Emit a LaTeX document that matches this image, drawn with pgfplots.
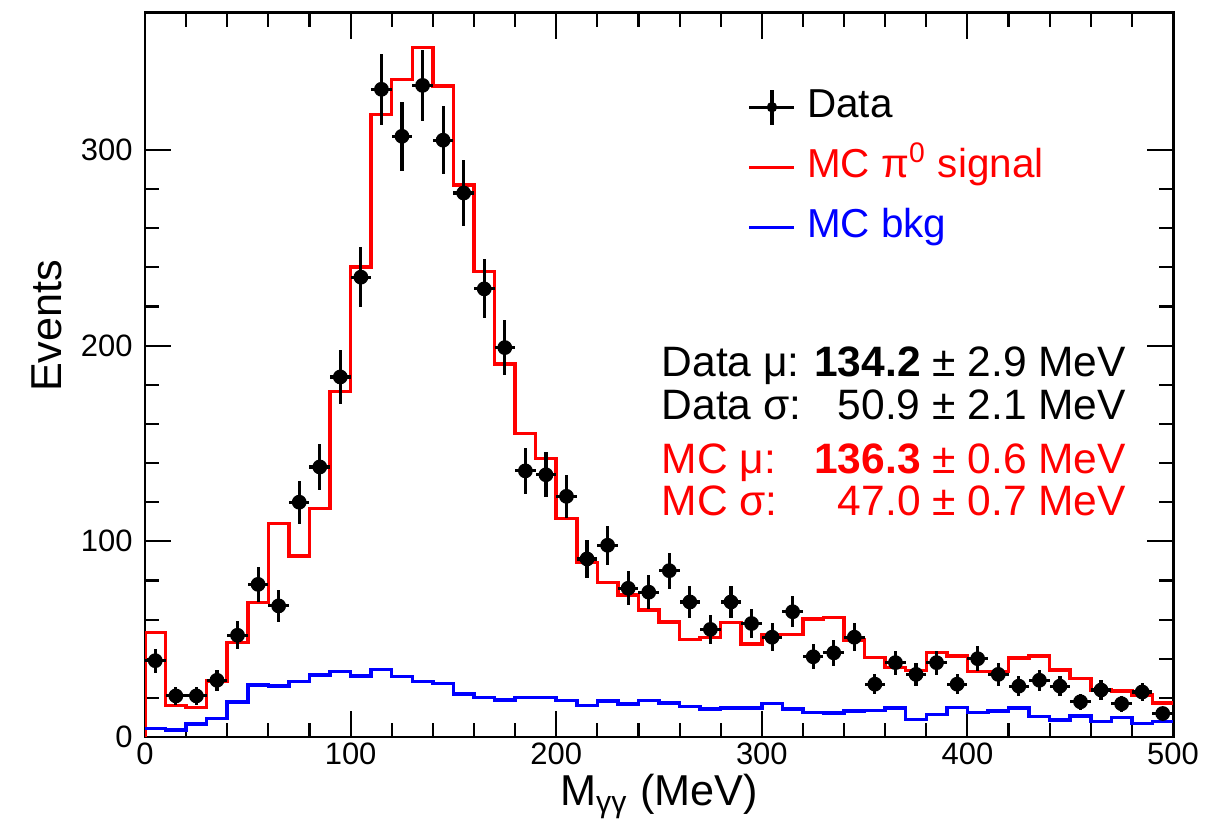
\documentclass[border=0pt]{standalone}
\usepackage{fontspec}
\setmainfont{Liberation Sans}
\usepackage{pgfplots}
\usepackage{pgfplotstable}
\pgfplotsset{compat=1.18}

% data points: bin centre, count, half bin width, sqrt(N)
\pgfplotstableread{
x y ex ey
5 39 5 6.2
15 21 5 4.6
25 21 5 4.6
35 29 5 5.4
45 52 5 7.2
55 78 5 8.8
65 67 5 8.2
75 120 5 11.0
85 138 5 11.7
95 184 5 13.6
105 235 5 15.3
115 331 5 18.2
125 307 5 17.5
135 333 5 18.2
145 305 5 17.5
155 278 5 16.7
165 229 5 15.1
175 199 5 14.1
185 136 5 11.7
195 134 5 11.6
205 123 5 11.1
215 91 5 9.5
225 98 5 9.9
235 76 5 8.7
245 74 5 8.6
255 85 5 9.2
265 69 5 8.3
275 55 5 7.4
285 69 5 8.3
295 58 5 7.6
305 51 5 7.1
315 64 5 8.0
325 41 5 6.4
335 43 5 6.6
345 51 5 7.1
355 27 5 5.2
365 38 5 6.2
375 32 5 5.7
385 38 5 6.2
395 27 5 5.2
405 40 5 6.3
415 32 5 5.7
425 26 5 5.1
435 29 5 5.4
445 26 5 5.1
455 18 5 4.2
465 24 5 4.9
475 17 5 4.1
485 23 5 4.8
495 12 5 3.5
}\datatab

% MC signal, left bin edge
\pgfplotstableread{
x y
0 0
0 53.5
10 16
20 15
30 28.6
40 48.4
50 68.8
60 109.2
70 92.6
80 116.8
90 176.5
100 240.3
110 318
120 336
130 352.4
140 332.6
150 282
160 238
170 190.6
180 155.2
190 142.4
200 111.7
210 89.3
220 78.9
230 72.6
240 64.9
250 58.9
260 49.9
270 50.9
280 58.4
290 47.5
300 52.5
310 52.5
320 60.3
330 61
340 49.6
350 40.7
360 35.6
370 33.9
380 43.3
390 41.4
400 33.4
410 33.4
420 40.5
430 41.4
440 34.2
450 30
460 24
470 23.5
480 21.5
490 17.5
500 17.5
}\sigtab

% MC background, left bin edge
\pgfplotstableread{
x y
0 4.4
10 3.6
20 6.6
30 9.5
40 18
50 26.6
60 26.1
70 28.3
80 31.7
90 33.4
100 31.2
110 34.6
120 30.8
130 28.3
140 27.4
150 22
160 20.3
170 19
180 20.3
190 20.3
200 18.6
210 16
220 18.4
230 16.9
240 18.6
250 17.5
260 15.5
270 14.3
280 14.7
290 14.7
300 17.2
310 14.2
320 12.4
330 12.2
340 13.4
350 13.6
360 14.7
370 9
380 11.6
390 15
400 12.4
410 13.4
420 14.7
430 10.4
440 8.7
450 10.7
460 7.8
470 9.9
480 7
490 7.8
500 7.8
}\bkgtab

\begin{document}
\begin{tikzpicture}
\begin{axis}[
  scale only axis,
  width=102.8mm, height=72.4mm,
  xmin=0, xmax=500, ymin=0, ymax=370,
  xtick={0,100,...,500}, ytick={0,100,200,300},
  minor x tick num=4, minor y tick num=4,
  tick align=inside,
  major tick length=2.6mm, minor tick length=1.4mm,
  axis line style={line width=0.85pt},
  every tick/.style={black, line width=0.6pt},
  /pgf/number format/assume math mode=true,
  tick label style={font=\fontsize{8.8}{10}\selectfont},
  xticklabel style={inner sep=1.5pt},
  xlabel={M\textsubscript{γγ} (MeV)},
  ylabel={Events},
  xlabel style={at={(rel axis cs:0.5,-0.095)}, anchor=base, inner sep=0pt,
                font=\fontsize{12.3}{14}\selectfont},
  ylabel style={at={(rel axis cs:-0.0798,0.568)}, anchor=south, inner sep=0pt,
                font=\fontsize{12.3}{14}\selectfont},
  legend cell align=left,
  legend style={draw=none, fill=none, at={(rel axis cs:0.5856,0.900)},
                anchor=north west, inner sep=0pt, row sep=5.1pt,
                font=\fontsize{11.5}{13}\selectfont,
                nodes={inner sep=0pt, text height=9pt, text depth=3pt},
                /tikz/every odd column/.append style={column sep=1.1mm}},
]
  \addlegendimage{legend image code/.code={
    \draw[black, line width=0.9pt] (0mm,0mm) -- (4.5mm,0mm);
    \draw[black, line width=0.9pt] (2.25mm,-1.75mm) -- (2.25mm,1.75mm);
    \fill[black] (2.25mm,0mm) circle (0.45mm);}}
  \addlegendentry{Data}
  \addlegendimage{legend image code/.code={
    \draw[red, line width=1pt] (0mm,0mm) -- (4.5mm,0mm);}}
  \addlegendentry{\textcolor{red}{MC π\textsuperscript{0} signal}}
  \addlegendimage{legend image code/.code={
    \draw[blue, line width=1pt] (0mm,0mm) -- (4.5mm,0mm);}}
  \addlegendentry{\textcolor{blue}{MC bkg}}

  \addplot[red, line width=1pt, const plot mark left, forget plot] table[x=x, y=y] {\sigtab};
  \addplot[blue, line width=1pt, const plot mark left, forget plot] table[x=x, y=y] {\bkgtab};
  \addplot[black, only marks, mark=*, mark size=1.9pt, forget plot,
    error bars/.cd, x dir=both, x explicit, y dir=both, y explicit,
    error mark=none, error bar style={line width=0.9pt, black}]
    table[x=x, y=y, x error=ex, y error=ey] {\datatab};

  \node[anchor=base west, inner sep=0pt, font=\fontsize{12.1}{12}\selectfont]
    at (rel axis cs:0.502,0.4977) {%
    \begin{tabular}[t]{@{}l@{\hspace{0.3em}}r@{}}
      Data μ: & \textbf{134.2} ± 2.9 MeV\\
      Data σ: & 50.9 ± 2.1 MeV\\[3.4pt]
      \color{red}MC μ: & \color{red}\textbf{136.3} ± 0.6 MeV\\
      \color{red}MC σ: & \color{red}47.0 ± 0.7 MeV
    \end{tabular}};
\end{axis}
\path ([shift={(-14.5mm,-8.7mm)}]current axis.south west)
  rectangle ([shift={(4.5mm,1.3mm)}]current axis.north east);
\end{tikzpicture}
\end{document}
